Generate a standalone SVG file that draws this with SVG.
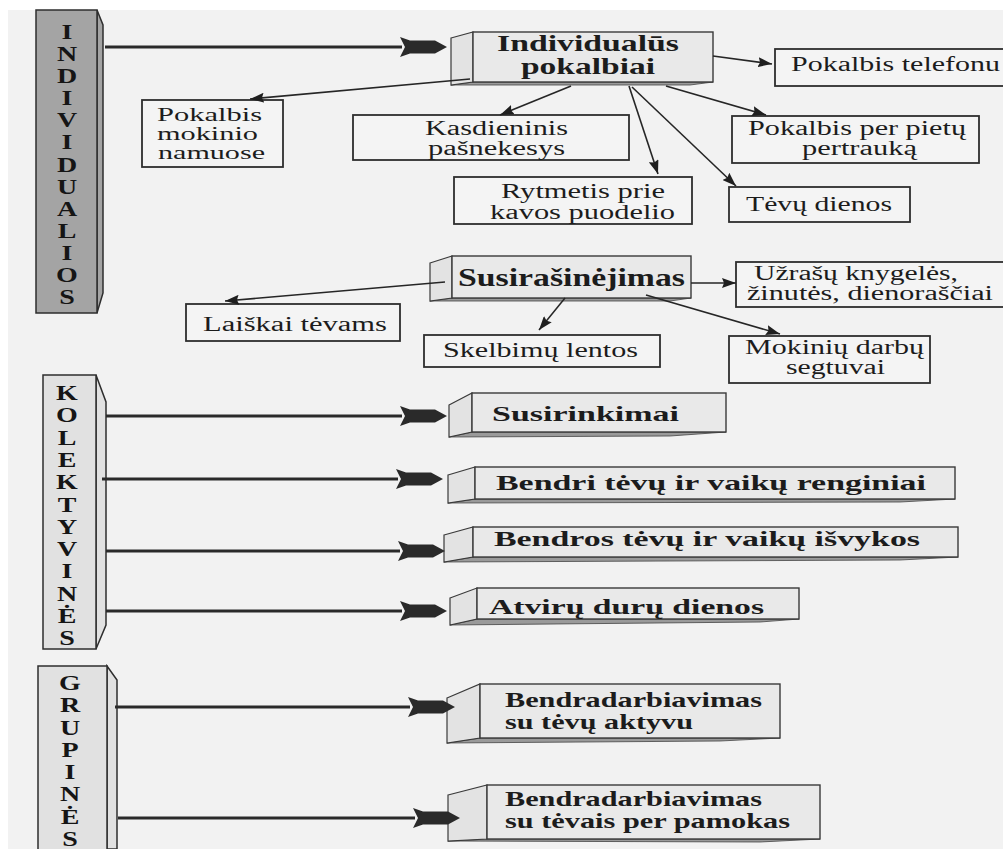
<svg xmlns="http://www.w3.org/2000/svg" width="1003" height="849" viewBox="0 0 1003 849">
<style>
.bg{fill:#f2f2f2}
.t{font-family:"Liberation Serif","Times New Roman",serif;font-size:20px;fill:#1c1c1c}
.t2{font-family:"Liberation Serif","Times New Roman",serif;font-size:18.5px;fill:#1c1c1c}
.h{font-family:"Liberation Serif","Times New Roman",serif;font-size:25px;font-weight:bold;fill:#1c1c1c}
.h2{font-family:"Liberation Serif","Times New Roman",serif;font-size:22.5px;font-weight:bold;fill:#1c1c1c}
.hs{font-family:"Liberation Serif","Times New Roman",serif;font-size:21px;font-weight:bold;fill:#1c1c1c}
.lt{font-family:"Liberation Serif","Times New Roman",serif;font-size:20px;font-weight:bold;fill:#151515;text-anchor:middle}
.box{fill:#f4f4f4;stroke:#2e2e2e;stroke-width:1.8}
.front{fill:#e9e9e9;stroke:#3a3a3a;stroke-width:1.4}
.side{fill:#e3e3e3;stroke:#3a3a3a;stroke-width:1.2}
.sliver{fill:#9a9a9a;stroke:#444;stroke-width:0.8}
.bar-dark{fill:#a4a4a4;stroke:#2e2e2e;stroke-width:1.5}
.bar-light{fill:#e1e1e1;stroke:#2e2e2e;stroke-width:1.5}
.thin{stroke:#262626;stroke-width:1.6;fill:none}
.thick{stroke:#2a2a2a;stroke-width:3;fill:none}
.dart{fill:#2a2a2a}
</style>
<defs>
<marker id="tri" viewBox="0 0 14 10" refX="14" refY="5" markerWidth="14" markerHeight="10" markerUnits="userSpaceOnUse" orient="auto">
<path d="M0,0 L14,5 L0,10 L2,5 Z" fill="#1f1f1f"/>
</marker>
<path id="dart" d="M0,0 L-12,-6.5 L-37,-6.5 L-47,-10 L-42,0 L-47,10 L-37,6.5 L-12,6.5 Z"/>
</defs>

<rect x="0" y="0" width="1003" height="849" fill="#ffffff"/>
<rect class="bg" x="8" y="10" width="995" height="839"/>

<!-- Category bars -->
<g id="bar-individualios">
<polygon class="bar-dark" points="97,10 103,25 103,293 97,313"/>
<rect class="bar-dark" x="36" y="10" width="61" height="303"/>
<g transform="translate(67,0) scale(1.4,1)">
<text class="lt" x="0" y="39">I</text>
<text class="lt" x="0" y="61">N</text>
<text class="lt" x="0" y="83">D</text>
<text class="lt" x="0" y="105">I</text>
<text class="lt" x="0" y="127">V</text>
<text class="lt" x="0" y="149">I</text>
<text class="lt" x="0" y="172">D</text>
<text class="lt" x="0" y="194">U</text>
<text class="lt" x="0" y="216">A</text>
<text class="lt" x="0" y="238">L</text>
<text class="lt" x="0" y="260">I</text>
<text class="lt" x="0" y="282">O</text>
<text class="lt" x="0" y="304">S</text>
</g>
</g>

<g id="bar-kolektyvines">
<polygon class="bar-light" points="96,375 106,402 106,625 96,649"/>
<rect class="bar-light" x="43" y="375" width="53" height="274"/>
<g transform="translate(67,0) scale(1.4,1)">
<text class="lt" x="0" y="400">K</text>
<text class="lt" x="0" y="422">O</text>
<text class="lt" x="0" y="445">L</text>
<text class="lt" x="0" y="467">E</text>
<text class="lt" x="0" y="489">K</text>
<text class="lt" x="0" y="512">T</text>
<text class="lt" x="0" y="534">Y</text>
<text class="lt" x="0" y="556">V</text>
<text class="lt" x="0" y="578">I</text>
<text class="lt" x="0" y="601">N</text>
<text class="lt" x="0" y="623">Ė</text>
<text class="lt" x="0" y="645">S</text>
</g>
</g>

<g id="bar-grupines">
<polygon class="bar-light" points="107,666 117,680 117,849 107,849"/>
<rect class="bar-light" x="38" y="666" width="69" height="190"/>
<g transform="translate(70,0) scale(1.4,1)">
<text class="lt" x="0" y="690">G</text>
<text class="lt" x="0" y="712">R</text>
<text class="lt" x="0" y="735">U</text>
<text class="lt" x="0" y="757">P</text>
<text class="lt" x="0" y="779">I</text>
<text class="lt" x="0" y="801">N</text>
<text class="lt" x="0" y="824">Ė</text>
<text class="lt" x="0" y="846">S</text>
</g>
</g>

<!-- 3D boxes -->
<g id="n-individualus">
<polygon class="sliver" points="451,85 473,82 713,82 690,85"/>
<polygon class="side" points="451,38 473,32 473,82 451,85"/>
<rect class="front" x="473" y="32" width="240" height="50"/>
<text class="h2" x="497" y="51" textLength="182" lengthAdjust="spacingAndGlyphs">Individualūs</text>
<text class="h2" x="521" y="74" textLength="134" lengthAdjust="spacingAndGlyphs">pokalbiai</text>
</g>

<g id="n-susirasinejimas">
<polygon class="sliver" points="430,301 452,298 691,298 670,301"/>
<polygon class="side" points="430,263 452,256 452,298 430,301"/>
<rect class="front" x="452" y="256" width="239" height="42"/>
<text class="h" x="458" y="286" textLength="227" lengthAdjust="spacingAndGlyphs">Susirašinėjimas</text>
</g>

<g id="n-susirinkimai">
<polygon class="sliver" points="449,437 472,432 726,432 670,436"/>
<polygon class="side" points="449,405 472,393 472,432 449,437"/>
<rect class="front" x="472" y="393" width="254" height="39"/>
<text class="hs" x="492" y="421" textLength="187" lengthAdjust="spacingAndGlyphs">Susirinkimai</text>
</g>

<g id="n-bendri">
<polygon class="sliver" points="448,503 475,499 955,499 900,502"/>
<polygon class="side" points="448,475 475,467 475,499 448,503"/>
<rect class="front" x="475" y="467" width="480" height="32"/>
<text class="hs" x="496" y="490" textLength="430" lengthAdjust="spacingAndGlyphs">Bendri tėvų ir vaikų renginiai</text>
</g>

<g id="n-bendros">
<polygon class="sliver" points="444,562 473,557 958,557 900,560"/>
<polygon class="side" points="444,535 473,527 473,557 444,562"/>
<rect class="front" x="473" y="527" width="485" height="30"/>
<text class="hs" x="494" y="546" textLength="426" lengthAdjust="spacingAndGlyphs">Bendros tėvų ir vaikų išvykos</text>
</g>

<g id="n-atviru">
<polygon class="sliver" points="450,625 477,619 799,619 760,622"/>
<polygon class="side" points="450,598 477,588 477,619 450,625"/>
<rect class="front" x="477" y="588" width="322" height="31"/>
<text class="hs" x="489" y="614" textLength="275" lengthAdjust="spacingAndGlyphs">Atvirų durų dienos</text>
</g>

<g id="n-aktyvu">
<polygon class="sliver" points="447,743 480,738 780,738 720,741"/>
<polygon class="side" points="447,698 480,684 480,738 447,743"/>
<rect class="front" x="480" y="684" width="300" height="54"/>
<text class="hs" x="505" y="707" textLength="257" lengthAdjust="spacingAndGlyphs">Bendradarbiavimas</text>
<text class="hs" x="505" y="729" textLength="188" lengthAdjust="spacingAndGlyphs">su tėvų aktyvu</text>
</g>

<g id="n-pamokas">
<polygon class="sliver" points="448,841 487,839 820,839 760,842"/>
<polygon class="side" points="448,795 487,785 487,839 448,841"/>
<rect class="front" x="487" y="785" width="333" height="54"/>
<text class="hs" x="505" y="806" textLength="257" lengthAdjust="spacingAndGlyphs">Bendradarbiavimas</text>
<text class="hs" x="505" y="828" textLength="285" lengthAdjust="spacingAndGlyphs">su tėvais per pamokas</text>
</g>

<!-- Plain boxes -->
<g id="n-telefonu">
<rect class="box" x="775" y="49" width="240" height="37"/>
<text class="t" x="791" y="71" textLength="209" lengthAdjust="spacingAndGlyphs">Pokalbis telefonu</text>
</g>

<g id="n-namuose">
<rect class="box" x="142" y="100" width="141" height="67"/>
<text class="t2" x="157" y="121" textLength="105" lengthAdjust="spacingAndGlyphs">Pokalbis</text>
<text class="t2" x="157" y="140" textLength="101" lengthAdjust="spacingAndGlyphs">mokinio</text>
<text class="t2" x="158" y="159" textLength="107" lengthAdjust="spacingAndGlyphs">namuose</text>
</g>

<g id="n-kasdieninis">
<rect class="box" x="353" y="115" width="276" height="45"/>
<text class="t" x="425" y="135" textLength="143" lengthAdjust="spacingAndGlyphs">Kasdieninis</text>
<text class="t" x="428" y="155" textLength="137" lengthAdjust="spacingAndGlyphs">pašnekesys</text>
</g>

<g id="n-rytmetis">
<rect class="box" x="454" y="177" width="238" height="47"/>
<text class="t" x="501" y="198" textLength="164" lengthAdjust="spacingAndGlyphs">Rytmetis prie</text>
<text class="t" x="490" y="219" textLength="185" lengthAdjust="spacingAndGlyphs">kavos puodelio</text>
</g>

<g id="n-pietu">
<rect class="box" x="732" y="116" width="247" height="47"/>
<text class="t" x="748" y="135" textLength="218" lengthAdjust="spacingAndGlyphs">Pokalbis per pietų</text>
<text class="t" x="802" y="155" textLength="115" lengthAdjust="spacingAndGlyphs">pertrauką</text>
</g>

<g id="n-tevu-dienos">
<rect class="box" x="729" y="187" width="181" height="35"/>
<text class="t" x="746" y="211" textLength="146" lengthAdjust="spacingAndGlyphs">Tėvų dienos</text>
</g>

<g id="n-uzrasu">
<rect class="box" x="736" y="262" width="280" height="45"/>
<text class="t" x="754" y="280" textLength="204" lengthAdjust="spacingAndGlyphs">Užrašų knygelės,</text>
<text class="t" x="747" y="300" textLength="246" lengthAdjust="spacingAndGlyphs">žinutės, dienoraščiai</text>
</g>

<g id="n-laiskai">
<rect class="box" x="186" y="304" width="214" height="37"/>
<text class="t" x="203" y="331" textLength="184" lengthAdjust="spacingAndGlyphs">Laiškai tėvams</text>
</g>

<g id="n-skelbimu">
<rect class="box" x="424" y="335" width="236" height="32"/>
<text class="t" x="443" y="357" textLength="195" lengthAdjust="spacingAndGlyphs">Skelbimų lentos</text>
</g>

<g id="n-mokiniu">
<rect class="box" x="729" y="336" width="201" height="47"/>
<text class="t" x="745" y="354" textLength="179" lengthAdjust="spacingAndGlyphs">Mokinių darbų</text>
<text class="t" x="786" y="374" textLength="99" lengthAdjust="spacingAndGlyphs">segtuvai</text>
</g>

<!-- Connectors -->
<g id="connectors">
<line class="thick" x1="105" y1="47" x2="402" y2="47"/>
<use href="#dart" class="dart" transform="translate(447,47)"/>
<line class="thick" x1="106" y1="416" x2="402" y2="416"/>
<use href="#dart" class="dart" transform="translate(447,416)"/>
<line class="thick" x1="102" y1="479" x2="398" y2="479"/>
<use href="#dart" class="dart" transform="translate(443,479)"/>
<line class="thick" x1="106" y1="551" x2="400" y2="551"/>
<use href="#dart" class="dart" transform="translate(445,551)"/>
<line class="thick" x1="106" y1="611" x2="402" y2="611"/>
<use href="#dart" class="dart" transform="translate(447,611)"/>
<line class="thick" x1="115" y1="707" x2="410" y2="707"/>
<use href="#dart" class="dart" transform="translate(455,707)"/>
<line class="thick" x1="118" y1="818" x2="415" y2="818"/>
<use href="#dart" class="dart" transform="translate(460,818)"/>

<line class="thin" x1="713" y1="56" x2="772" y2="64" marker-end="url(#tri)"/>
<line class="thin" x1="470" y1="79" x2="250" y2="99" marker-end="url(#tri)"/>
<line class="thin" x1="571" y1="86" x2="500" y2="115" marker-end="url(#tri)"/>
<line class="thin" x1="629" y1="86" x2="658" y2="174" marker-end="url(#tri)"/>
<line class="thin" x1="632" y1="87" x2="736" y2="186" marker-end="url(#tri)"/>
<line class="thin" x1="666" y1="86" x2="766" y2="115" marker-end="url(#tri)"/>
<line class="thin" x1="445" y1="282" x2="225" y2="301" marker-end="url(#tri)"/>
<line class="thin" x1="691" y1="283" x2="736" y2="283" marker-end="url(#tri)"/>
<line class="thin" x1="565" y1="298" x2="539" y2="330" marker-end="url(#tri)"/>
<line class="thin" x1="646" y1="295" x2="780" y2="334" marker-end="url(#tri)"/>
</g>
</svg>
